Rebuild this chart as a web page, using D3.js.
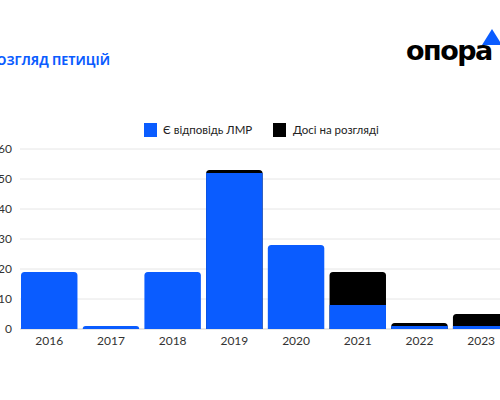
<!DOCTYPE html>
<html>
<head>
<meta charset="utf-8">
<script src="https://cdn.jsdelivr.net/npm/d3@7"></script>
<style>
    body { margin: 0; background: #fff; }
    svg { display: block; font-family: Lato, "Open Sans", sans-serif; }
</style>
</head>
<body>
<div id="chart"></div>
<script>

// ==========================
// Data
// ==========================

const years = ["2016", "2017", "2018", "2019", "2020", "2021", "2022", "2023"];
const answered = [19, 1, 19, 52, 28, 8, 1, 1];
const pending = [0, 0, 0, 1, 0, 11, 1, 4];
const yTicks = [0, 10, 20, 30, 40, 50, 60];
const seriesNames = ["Є відповідь ЛМР", "Досі на розгляді"];

const blue = "#0a5cff";
const black = "#000000";

const rows = years.map((y, i) => ({
    year: y,
    answered: answered[i],
    pending: pending[i]
}));

// ==========================
// SVG Setup
// ==========================

const width = 500;
const height = 400;

const svg = d3.select("#chart").append("svg")
    .attr("width", width)
    .attr("height", height);

const xScale = d3.scaleBand()
    .domain(years)
    .range([21, 509.4])
    .paddingInner(0.085)
    .paddingOuter(0);

const yScale = d3.scaleLinear()
    .domain([0, 60])
    .range([329, 149]);

// ==========================
// Grid lines
// ==========================

svg.append("g")
    .selectAll("line")
    .data(yTicks)
    .enter()
    .append("line")
    .attr("x1", 20)
    .attr("x2", width)
    .attr("y1", d => yScale(d))
    .attr("y2", d => yScale(d))
    .attr("stroke", d => d === 0 ? "#cfcfcf" : "#e6e6e6")
    .attr("stroke-width", 1);

// y labels (cut at the left edge, as in the source crop)
svg.append("g")
    .selectAll("text")
    .data(yTicks)
    .enter()
    .append("text")
    .attr("x", 12)
    .attr("y", d => yScale(d))
    .attr("dy", "0.35em")
    .attr("text-anchor", "end")
    .style("font-size", "12px")
    .style("fill", "#333")
    .text(d => d);

// ==========================
// Bars (rounded top corners)
// ==========================

function topRounded(x, y, w, h, r) {
    r = Math.min(r, h, w / 2);
    return `M${x},${y + h}` +
        `V${y + r}` +
        `Q${x},${y} ${x + r},${y}` +
        `H${x + w - r}` +
        `Q${x + w},${y} ${x + w},${y + r}` +
        `V${y + h}Z`;
}

const bw = xScale.bandwidth();

// black (total) drawn first, blue on top
svg.append("g")
    .selectAll("path")
    .data(rows.filter(d => d.pending > 0))
    .enter()
    .append("path")
    .attr("d", d => {
        const yTop = yScale(d.answered + d.pending);
        return topRounded(xScale(d.year), yTop, bw, yScale(0) - yTop, 3.5);
    })
    .attr("fill", black);

svg.append("g")
    .selectAll("path")
    .data(rows)
    .enter()
    .append("path")
    .attr("d", d => {
        const yTop = yScale(d.answered);
        const r = d.pending > 0 ? 0 : 3.5;
        return topRounded(xScale(d.year), yTop, bw, yScale(0) - yTop, r);
    })
    .attr("fill", blue);

// x labels
svg.append("g")
    .selectAll("text")
    .data(years)
    .enter()
    .append("text")
    .attr("x", d => xScale(d) + bw / 2)
    .attr("y", 345)
    .attr("text-anchor", "middle")
    .style("font-size", "12px")
    .style("fill", "#333")
    .text(d => d);

// ==========================
// Legend
// ==========================

const legend = svg.append("g")
    .attr("transform", "translate(144,123)");

legend.append("rect")
    .attr("width", 13)
    .attr("height", 14)
    .attr("fill", blue);

legend.append("text")
    .attr("x", 19)
    .attr("y", 11)
    .style("font-size", "11.5px")
    .style("fill", "#222")
    .text(seriesNames[0]);

legend.append("rect")
    .attr("x", 129)
    .attr("width", 13)
    .attr("height", 14)
    .attr("fill", black);

legend.append("text")
    .attr("x", 149)
    .attr("y", 11)
    .style("font-size", "11.5px")
    .style("fill", "#222")
    .text(seriesNames[1]);

// ==========================
// Title
// ==========================

svg.append("text")
    .attr("x", 110)
    .attr("y", 65)
    .attr("text-anchor", "end")
    .style("font-family", "'Open Sans', sans-serif")
    .style("font-size", "12.5px")
    .style("font-weight", "bold")
    .style("fill", blue)
    .text("РОЗГЛЯД ПЕТИЦІЙ");

// ==========================
// Logo
// ==========================

const logo = svg.append("g");

logo.append("text")
    .attr("x", 406)
    .attr("y", 60)
    .style("font-family", "'DejaVu Sans', sans-serif")
    .style("font-size", "27px")
    .style("font-weight", "bold")
    .style("letter-spacing", "-1.5px")
    .style("fill", "#000")
    .text("опора");

logo.append("path")
    .attr("d", "M482,45 L492,29 L502,45 Z")
    .attr("fill", blue);

</script>
</body>
</html>
